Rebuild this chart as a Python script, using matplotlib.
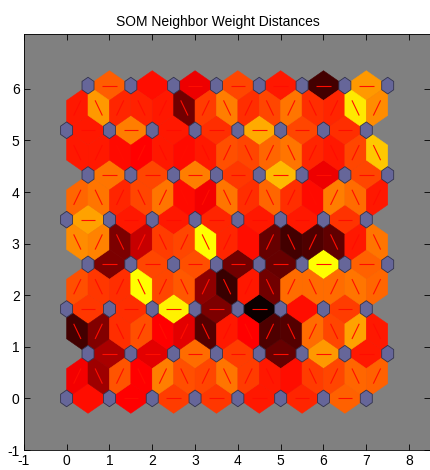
import numpy as np
import matplotlib
matplotlib.use("Agg")
import matplotlib.pyplot as plt
from matplotlib.collections import PolyCollection, LineCollection
from matplotlib.colors import LinearSegmentedColormap

plt.rcParams['font.family'] = ['Liberation Sans', 'DejaVu Sans']
plt.rcParams['axes.unicode_minus'] = False

# 8x8 hexagonal SOM
n_rows = 8
n_cols = 8
row_h = np.sqrt(0.75)

# distance shade per neighbour pair: 0 = black (far), 0.5 = red, 1 = yellow (close)
# horizontal pairs, one row per layer (bottom to top), left to right
horiz = [
    [0.48, 0.45, 0.58, 0.57, 0.50, 0.53, 0.66],
    [0.30, 0.40, 0.68, 0.58, 0.18, 0.78, 0.50],
    [0.57, 0.55, 0.97, 0.22, 0.02, 0.48, 0.58],
    [0.22, 0.60, 0.62, 0.20, 0.18, 1.00, 0.66],
    [0.80, 0.50, 0.50, 0.53, 0.50, 0.50, 0.56],
    [0.70, 0.60, 0.72, 0.57, 0.85, 0.42, 0.60],
    [0.50, 0.72, 0.50, 0.55, 0.82, 0.60, 0.55],
    [0.65, 0.48, 0.42, 0.60, 0.50, 0.12, 0.78],
]
# diagonal pairs between layer r and r+1, left to right
diag = [
    [0.43, 0.28, 0.63, 0.45, 0.72, 0.62, 0.60, 0.70, 0.58, 0.50, 0.48, 0.58, 0.60, 0.67, 0.66],
    [0.12, 0.23, 0.55, 0.62, 0.45, 0.40, 0.15, 0.50, 0.45, 0.14, 0.15, 0.68, 0.60, 0.80, 0.50],
    [0.62, 0.57, 0.55, 1.00, 0.60, 0.64, 0.25, 0.10, 0.50, 0.20, 0.68, 0.68, 0.68, 0.70, 0.67],
    [0.75, 0.73, 0.22, 0.35, 0.58, 0.60, 1.00, 0.53, 0.48, 0.18, 0.12, 0.14, 0.17, 0.50, 0.70],
    [0.67, 0.70, 0.53, 0.60, 0.70, 0.47, 0.43, 0.70, 0.55, 0.67, 0.55, 0.47, 0.72, 0.68, 0.50],
    [0.50, 0.50, 0.47, 0.45, 0.50, 0.47, 0.50, 0.62, 0.60, 0.67, 0.70, 0.53, 0.50, 0.60, 0.88],
    [0.50, 0.78, 0.53, 0.52, 0.50, 0.20, 0.58, 0.72, 0.55, 0.60, 0.70, 0.55, 0.53, 0.95, 0.75],
]


def offset(r):
    return 0.5 * (r % 2)


pairs = []
vals = []
for r in range(n_rows):
    for c in range(n_cols - 1):
        x0 = c + offset(r)
        pairs.append(((x0, r * row_h), (x0 + 1, r * row_h)))
        vals.append(horiz[r][c])
for r in range(n_rows - 1):
    for k, v in enumerate(diag[r]):
        m = 0.25 + 0.5 * k
        xl = round(m - offset(r)) + offset(r)
        xu = round(m - offset(r + 1)) + offset(r + 1)
        pairs.append(((xl, r * row_h), (xu, (r + 1) * row_h)))
        vals.append(v)

h = 1 / (2 * np.sqrt(3))
rhombi = []
segs = []
for (a, b) in pairs:
    a = np.array(a); b = np.array(b)
    mid = (a + b) / 2
    d = b - a
    perp = np.array([-d[1], d[0]]) / np.hypot(*d)
    rhombi.append([a, mid + perp * h, b, mid - perp * h])
    segs.append([mid - d * 0.17, mid + d * 0.17])

cmap = LinearSegmentedColormap.from_list(
    'som', [(0, 'black'), (0.45, 'red'), (1, 'yellow')])

fig = plt.figure(figsize=(4.3, 4.7), dpi=100)
ax = fig.add_axes([23.8 / 430, 20 / 470, 406.7 / 430, 416 / 470])
ax.set_facecolor((0.5, 0.5, 0.5))

pc = PolyCollection(rhombi, array=np.array(vals), cmap=cmap, edgecolors='face',
                    linewidths=0.4, zorder=1)
pc.set_clim(0, 1)
ax.add_collection(pc)
ax.add_collection(LineCollection(segs, colors=(1.0, 0.05, 0.0), linewidths=0.8, zorder=2))

# neuron markers
hx = np.array([-1, 0, 1, 1, 0, -1]) * 0.5 * 0.28
hy = np.array([1, 2, 1, -1, -2, -1]) * (np.sqrt(0.75) / 3) * 0.28
hexes = []
for r in range(n_rows):
    for c in range(n_cols):
        hexes.append(np.column_stack([c + offset(r) + hx, r * row_h + hy]))
ax.add_collection(PolyCollection(hexes, facecolors=(0.4, 0.4, 0.6),
                                  edgecolors=(0.2, 0.2, 0.3), linewidths=0.6, zorder=3))

ax.set_xlim(-1, 7.5 + 1)
ax.set_ylim(-1, (n_rows - 1) * row_h + 1)
ax.set_xticks(range(-1, 9))
ax.set_yticks(range(-1, 7))
ax.tick_params(direction='in', top=True, right=True, length=4, width=0.6,
               labelsize=10, pad=3)
for s in ax.spines.values():
    s.set_linewidth(0.6)
ax.set_title('SOM Neighbor Weight Distances', fontsize=10, x=0.478, pad=6)

fig.savefig('out.png', dpi=100)
